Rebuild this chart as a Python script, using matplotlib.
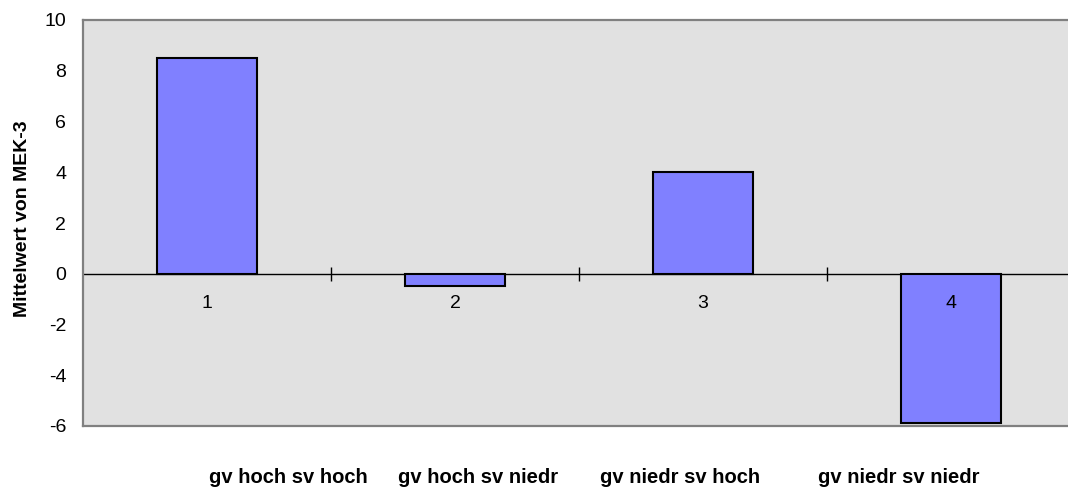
import matplotlib
matplotlib.use("Agg")
import matplotlib.pyplot as plt

plt.rcParams['font.family'] = ['Liberation Sans', 'DejaVu Sans']

positions = [1, 2, 3, 4]
values = [8.5, -0.5, 4.0, -5.9]
point_labels = ["1", "2", "3", "4"]
group_labels = ["gv hoch sv hoch", "gv hoch sv niedr", "gv niedr sv hoch", "gv niedr sv niedr"]
y_ticks = [-6, -4, -2, 0, 2, 4, 6, 8, 10]
y_label = "Mittelwert von MEK-3"

W, H = 1068, 488
fig = plt.figure(figsize=(W / 100, H / 100), dpi=100)
ax = fig.add_axes([83 / W, 1 - 426 / H, (1075 - 83) / W, (426 - 20) / H])
ax.set_facecolor('#E1E1E1')

ax.bar(positions, values, width=100 / 248, color='#8080FF', edgecolor='black', linewidth=1.5, zorder=3)
ax.axhline(0, color='black', linewidth=1.0, zorder=2)
ax.plot([1.5, 2.5, 3.5], [0, 0, 0], linestyle='none', marker='|', markersize=10,
        markeredgewidth=1.0, color='black', zorder=2)

for x, lab in zip(positions, point_labels):
    ax.annotate(lab, xy=(x, 0), xytext=(0, -21.5), textcoords='offset points',
                ha='center', va='center', fontsize=14, color='black', zorder=4)

ax.set_xlim(0.5, 4.5)
ax.set_ylim(-6, 10)
ax.set_yticks(y_ticks)
ax.set_yticklabels([str(t) for t in y_ticks], fontsize=14)
ax.tick_params(axis='y', length=0, pad=12)
ax.set_xticks([])

for s in ['left', 'top', 'bottom', 'right']:
    ax.spines[s].set_color('#808080')
    ax.spines[s].set_linewidth(1.6)

fig.text(23 / W, 1 - 219 / H, y_label, rotation=90, ha='center', va='center',
         fontsize=14, fontweight='bold')

label_x_px = [288, 478, 680, 899]
for xp, lab in zip(label_x_px, group_labels):
    fig.text(xp / W, 1 - 483 / H, lab, ha='center', va='baseline', fontsize=14.5, fontweight='bold')

fig.savefig('out.png', dpi=100)
